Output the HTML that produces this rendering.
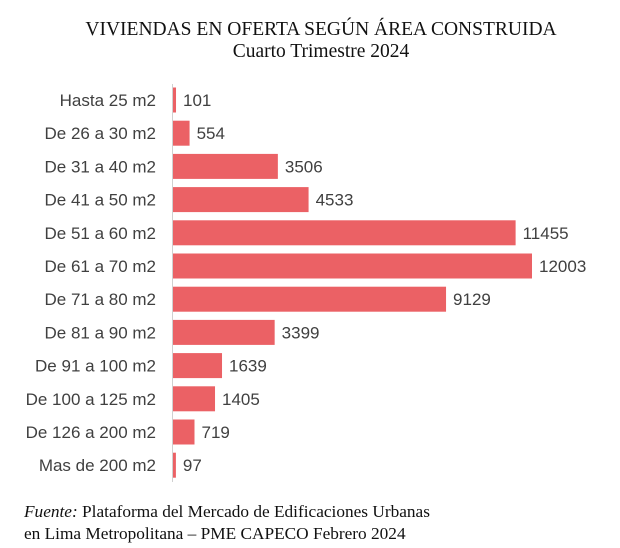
<!DOCTYPE html>
<html><head><meta charset="utf-8"><style>
body{margin:0;background:#fff;width:620px;height:548px;overflow:hidden}
svg{display:block}
</style></head><body>
<svg width="620" height="548">
<text x="321" y="35" text-anchor="middle" font-family="Liberation Serif" font-size="19.5" fill="#111">VIVIENDAS EN OFERTA SEGÚN ÁREA CONSTRUIDA</text>
<text x="321" y="57" text-anchor="middle" font-family="Liberation Serif" font-size="19.5" fill="#111">Cuarto Trimestre 2024</text>
<g id="bars"></g>
<line x1="172.5" y1="84" x2="172.5" y2="482" stroke="#d0d0d0" stroke-width="1"/>
<text x="24" y="517" font-family="Liberation Serif" font-size="17.3" fill="#111"><tspan font-style="italic">Fuente:</tspan> Plataforma del Mercado de Edificaciones  Urbanas</text>
<text x="24" y="539" font-family="Liberation Serif" font-size="17.3" fill="#111">en Lima Metropolitana – PME CAPECO Febrero 2024</text>
</svg>
<script>
const categories=["Hasta 25 m2","De 26 a 30 m2","De 31 a 40 m2","De 41 a 50 m2","De 51 a 60 m2","De 61 a 70 m2","De 71 a 80 m2","De 81 a 90 m2","De 91 a 100 m2","De 100 a 125 m2","De 126 a 200 m2","Mas de 200 m2"];
const values=[101,554,3506,4533,11455,12003,9129,3399,1639,1405,719,97];
const x0=173, scale=359/12003, y0=100, step=33.2, bh=25;
const xs=v=>x0+v*scale, ys=i=>y0+i*step;
const g=document.getElementById('bars'), NS="http://www.w3.org/2000/svg";
categories.forEach((c,i)=>{
  const r=document.createElementNS(NS,'rect');
  r.setAttribute('x',x0);r.setAttribute('y',ys(i)-bh/2);
  r.setAttribute('width',xs(values[i])-x0);r.setAttribute('height',bh);
  r.setAttribute('fill','#EB6165');
  
  
  g.appendChild(r);
  const l=document.createElementNS(NS,'text');
  l.setAttribute('x',156);l.setAttribute('y',ys(i)+6);l.setAttribute('text-anchor','end');
  l.setAttribute('font-family','Liberation Sans');l.setAttribute('font-size','17');l.setAttribute('fill','#404040');
  l.textContent=c;
  
  
  g.appendChild(l);
  const t=document.createElementNS(NS,'text');
  t.setAttribute('x',xs(values[i])+7);t.setAttribute('y',ys(i)+6);
  t.setAttribute('font-family','Liberation Sans');t.setAttribute('font-size','17');t.setAttribute('fill','#404040');
  t.textContent=values[i];
  
  
  g.appendChild(t);
});
</script>
</body></html>
